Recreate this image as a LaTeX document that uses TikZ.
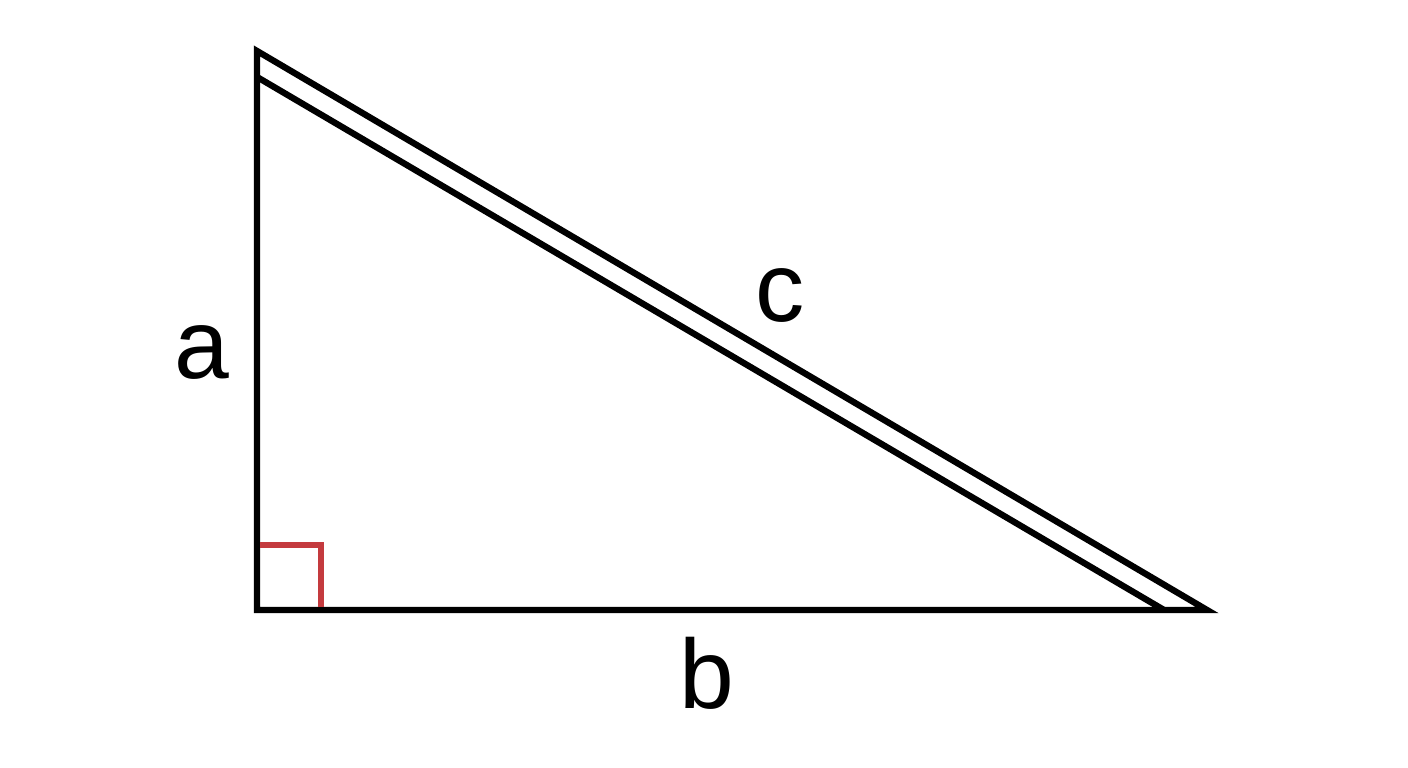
\documentclass[tikz,border=0pt]{standalone}
\usepackage{fontspec}
\setmainfont{Liberation Sans}
\usepackage{tikz}
\definecolor{anglered}{RGB}{196,58,62}

\begin{document}
\begin{tikzpicture}
	\useasboundingbox (0,0) rectangle (14.08,7.68);
	% corners
	\coordinate (top) at (2.57,7.17);
	\coordinate (rt) at (2.57,1.58);
	\coordinate (rgt) at (12.07,1.58);
	\coordinate (topin) at (2.57,6.91);
	\coordinate (rgtin) at (11.64,1.58);
	% triangle
	\draw [black, line width=1.8pt, line join=miter] (top) -- (rt) -- (rgt) -- cycle;
	\draw [black, line width=1.8pt] (topin) -- (rgtin);
	% right angle
	\draw [anglered, line width=1.5pt] (2.6,2.23) -- (3.21,2.23) -- (3.21,1.61);
	% label
	\node (la) at (2.02,4.15){\fontsize{28}{30}\selectfont a};
	\node (lb) at (7.07,0.95){\fontsize{28}{30}\selectfont b};
	\node (lc) at (7.8,4.72){\fontsize{28}{30}\selectfont c};
\end{tikzpicture}
\end{document}
